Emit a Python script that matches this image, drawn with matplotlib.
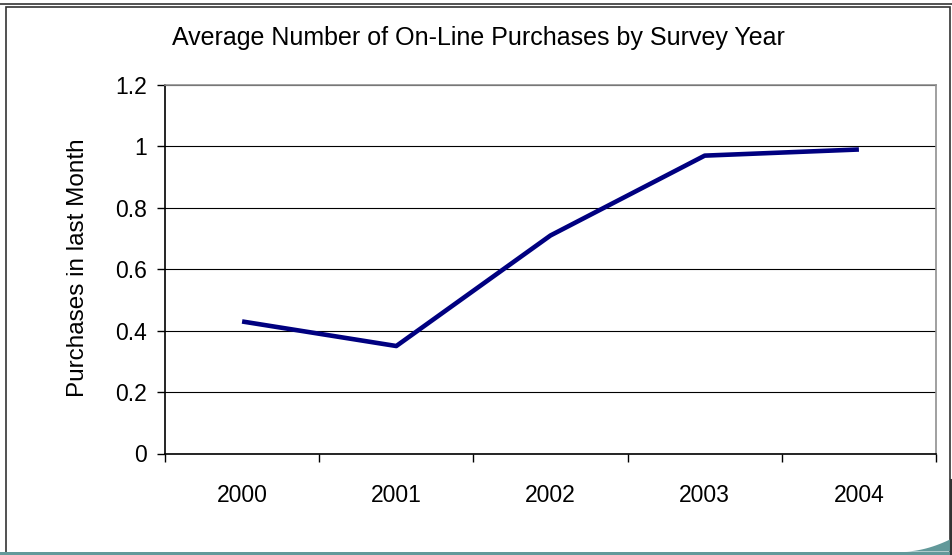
import matplotlib
matplotlib.use("Agg")
import matplotlib.pyplot as plt
from matplotlib.patches import Rectangle, Polygon
import numpy as np

years = ["2000", "2001", "2002", "2003", "2004"]
purchases = [0.43, 0.35, 0.71, 0.97, 0.99]
y_ticks = [0, 0.2, 0.4, 0.6, 0.8, 1, 1.2]
y_tick_labels = ["0", "0.2", "0.4", "0.6", "0.8", "1", "1.2"]

plt.rcParams["font.family"] = ["Liberation Sans", "DejaVu Sans"]

W, H = 953, 555
fig = plt.figure(figsize=(W / 100, H / 100), dpi=100)
fig.patch.set_facecolor("white")

def fx(px):
    return px / W

def fy(py):
    return 1 - py / H

# outer frame lines
fig.add_artist(plt.Line2D([0, 1], [fy(3.5), fy(3.5)], color="#333333", lw=1.2))
fig.add_artist(Rectangle((fx(6), fy(556)), fx(950) - fx(6), fy(6.5) - fy(556),
                         fill=False, edgecolor="#333333", lw=1.2))
# bottom teal band with ramp on the right
fig.add_artist(Rectangle((0, 0), 1, fy(551.5), facecolor="#62999a", edgecolor="none"))
xs = np.linspace(fx(905), 1, 30)
t = (xs - xs[0]) / (xs[-1] - xs[0])
ys = fy(551.5) + (fy(538) - fy(551.5)) * t ** 1.8
ramp = Polygon(np.column_stack([np.r_[xs, 1, xs[0]], np.r_[ys, fy(551.5), fy(551.5)]]),
               closed=True, facecolor="#62999a", edgecolor="none")
fig.add_artist(ramp)
fig.add_artist(plt.Line2D([fx(951.5), fx(951.5)], [0, fy(480)], color="#333333", lw=1.5))

ax = fig.add_axes([fx(165), fy(453.5), fx(936) - fx(165), fy(85) - fy(453.5)])
x = np.arange(len(years))
ax.plot(x, purchases, color="#000080", lw=3.3, solid_capstyle="butt", zorder=3)

ax.set_xlim(-0.5, len(years) - 0.5)
ax.set_ylim(0, 1.2)
ax.set_yticks(y_ticks)
ax.set_yticklabels(y_tick_labels)
ax.set_xticks(x)
ax.set_xticklabels(years)
ax.set_xticks(np.arange(-0.5, len(years), 1), minor=True)
ax.tick_params(axis="x", which="major", length=0, pad=22, labelsize=16.5)
ax.tick_params(axis="x", which="minor", length=6, width=1, direction="out", color="black")
ax.tick_params(axis="y", length=6, width=1, direction="out", pad=7, labelsize=16.5)
ax.yaxis.grid(True, color="black", lw=0.8)
ax.set_axisbelow(True)

for side in ("left", "bottom"):
    ax.spines[side].set_color("black")
    ax.spines[side].set_linewidth(1.2)
for side in ("top", "right"):
    ax.spines[side].set_color("#909090")
    ax.spines[side].set_linewidth(1.2)

ax.set_ylabel("Purchases in last Month", fontsize=17.5)
ax.yaxis.set_label_coords(-0.113, 0.505)
ax.yaxis.label.set_va("center")
fig.text(fx(478), fy(38), "Average Number of On-Line Purchases by Survey Year",
         ha="center", va="center", fontsize=18)

fig.savefig("out.png", dpi=100)
